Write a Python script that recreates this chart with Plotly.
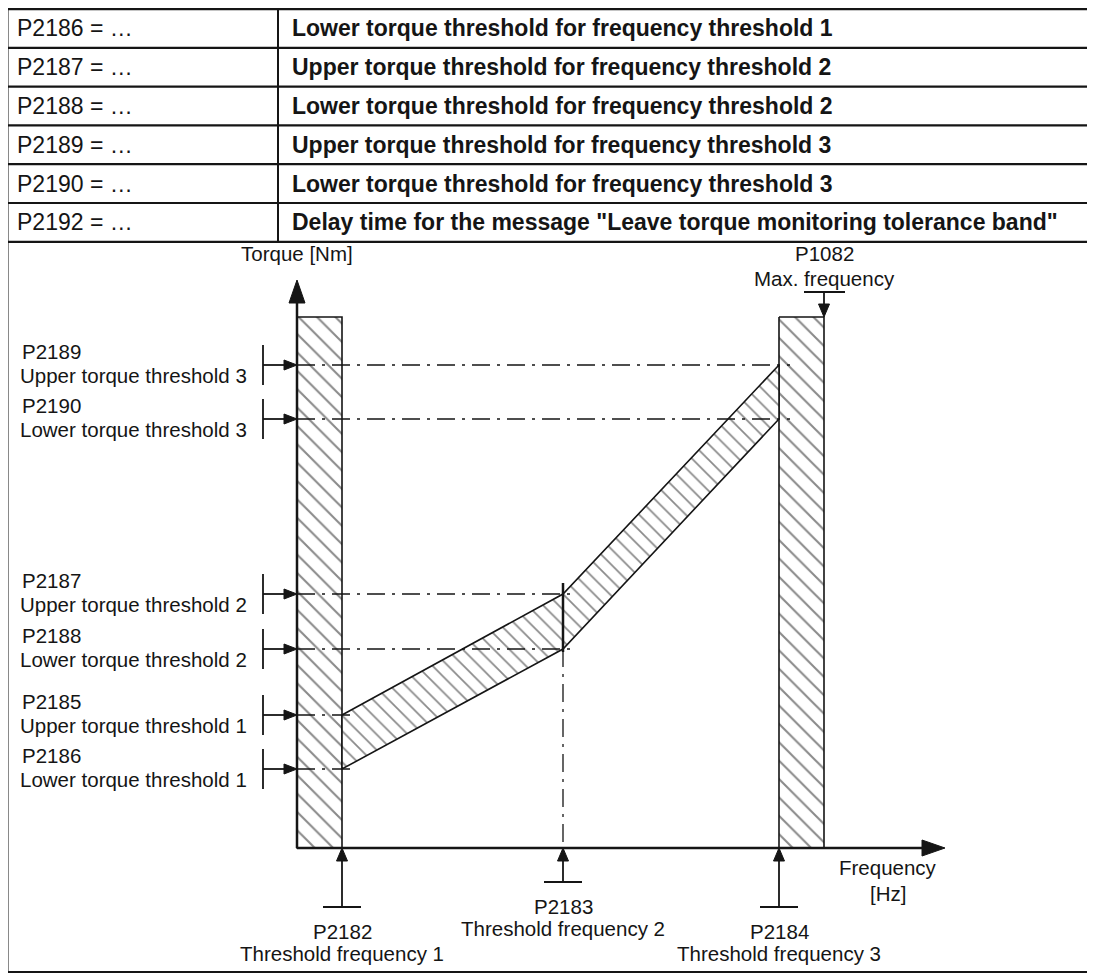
import plotly.graph_objects as go

W, H = 1095, 974
PAGE_OFFSET = 8          # default body margin of the html page
FONT = "Liberation Sans, Arial, sans-serif"
INK = "#151515"
LABEL = 20.5

# parameter table
param_ids = ["P2186 = …", "P2187 = …", "P2188 = …", "P2189 = …", "P2190 = …", "P2192 = …"]
param_text = [
    "Lower torque threshold for frequency threshold 1",
    "Upper torque threshold for frequency threshold 2",
    "Lower torque threshold for frequency threshold 2",
    "Upper torque threshold for frequency threshold 3",
    "Lower torque threshold for frequency threshold 3",
    'Delay time for the message "Leave torque monitoring tolerance band"',
]

# diagram values (frequency runs right, torque runs up)
f_origin = 297
f_thresholds = [342, 563, 779]          # P2182, P2183, P2184
f_max = 824                             # P1082
f_axis_end = 945
t_origin = 848
t_axis_end = 280
t_band_top = 317
torque_upper = [715, 594, 365]          # P2185, P2187, P2189
torque_lower = [769, 649, 419]          # P2186, P2188, P2190

upper_ids = ["P2185", "P2187", "P2189"]
lower_ids = ["P2186", "P2188", "P2190"]
upper_names = ["Upper torque threshold 1", "Upper torque threshold 2", "Upper torque threshold 3"]
lower_names = ["Lower torque threshold 1", "Lower torque threshold 2", "Lower torque threshold 3"]
freq_ids = ["P2182", "P2183", "P2184"]
freq_names = ["Threshold frequency 1", "Threshold frequency 2", "Threshold frequency 3"]
freq_marker_drop = [59, 34, 59]         # how far below the axis each frequency marker sits

fig = go.Figure()
shapes = []
ann = []
tri_x, tri_y = [], []


def line(x0, y0, x1, y1, w=1.5, dash="solid"):
    shapes.append(dict(type="line", x0=x0, y0=y0, x1=x1, y1=y1, xref="x", yref="y",
                       line=dict(color=INK, width=w, dash=dash), layer="above"))


def text(x, y, s, size=LABEL, anchor="center", bold=False):
    ann.append(dict(x=x, y=y, xref="x", yref="y", text=f"<b>{s}</b>" if bold else s,
                    showarrow=False, xanchor=anchor, yanchor="middle",
                    font=dict(family=FONT, size=size, color=INK)))


def head(tx, ty, direction, length=11, half=5):
    if direction == "up":
        pts = [(tx, ty), (tx - half, ty + length), (tx + half, ty + length)]
    elif direction == "down":
        pts = [(tx, ty), (tx - half, ty - length), (tx + half, ty - length)]
    else:  # right
        pts = [(tx, ty), (tx - length, ty - half), (tx - length, ty + half)]
    tri_x.extend([p[0] for p in pts] + [pts[0][0], None])
    tri_y.extend([p[1] for p in pts] + [pts[0][1], None])


def hatch(xs, ys, size=13):
    fig.add_trace(go.Scatter(
        x=xs, y=ys, mode="lines", fill="toself", fillcolor="white",
        fillpattern=dict(shape="\\", fgcolor=INK, bgcolor="white", size=size, solidity=0.16),
        line=dict(color=INK, width=1.6), hoverinfo="skip"))


# ---- table ----
row_h = 38.8
top = 9
for i, (pid, txt) in enumerate(zip(param_ids, param_text)):
    yc = top + row_h * (i + 0.5)
    text(15, yc, pid, size=23, anchor="left")
    text(290, yc, txt, size=23, anchor="left", bold=True)
    line(7, top + row_h * (i + 1), 1093, top + row_h * (i + 1), w=2.2)
table_bottom = top + row_h * len(param_ids)
line(278, top, 278, table_bottom, w=2)
line(7, top, 1093, top, w=2.5)
line(7, top, 7, 972, w=3)
line(1093, top, 1093, 972, w=2)
line(7, 972, 1093, 972, w=2)

# ---- hatched bars at threshold frequency 1 and 3 ----
hatch([f_origin, f_thresholds[0], f_thresholds[0], f_origin, f_origin],
      [t_band_top, t_band_top, t_origin, t_origin, t_band_top])
hatch([f_thresholds[2], f_max, f_max, f_thresholds[2], f_thresholds[2]],
      [t_band_top, t_band_top, t_origin, t_origin, t_band_top])

# tolerance band
hatch(f_thresholds + f_thresholds[::-1] + [f_thresholds[0]],
      torque_upper + torque_lower[::-1] + [torque_upper[0]], size=11)

# ---- axes ----
line(f_origin, t_origin, f_origin, t_axis_end + 20, w=2.5)
head(f_origin, t_axis_end, "up", length=23, half=8)
line(f_origin, t_origin, f_axis_end - 20, t_origin, w=2.5)
head(f_axis_end, t_origin, "right", length=23, half=8)
text(f_origin, 253, "Torque [Nm]")
text(888, 867, "Frequency")
text(888, 893, "[Hz]")

# ---- threshold lines ----
dd = "18px,7px,3px,7px"
for i in range(3):
    fx = f_thresholds[i]
    for ty in (torque_upper[i], torque_lower[i]):
        line(f_origin, ty, fx + 11, ty, w=1.4, dash=dd)
line(f_thresholds[1], torque_upper[1] - 11, f_thresholds[1], torque_lower[1] + 3, w=2.5)
line(f_thresholds[1], torque_lower[1], f_thresholds[1], t_origin, w=1.3, dash=dd)

# left labels with bracket arrows
for ids, names, ys in ((upper_ids, upper_names, torque_upper), (lower_ids, lower_names, torque_lower)):
    for pid, name, ty in zip(ids, names, ys):
        line(263, ty - 20, 263, ty + 20, w=1.8)
        line(263, ty, f_origin - 10, ty, w=1.8)
        head(f_origin, ty, "right", length=13, half=5)
        text(20, ty - 14, pid, anchor="left")
        text(18, ty + 10, name, anchor="left")

# frequency markers below the axis
for fx, pid, name, drop in zip(f_thresholds, freq_ids, freq_names, freq_marker_drop):
    yb = t_origin + drop
    line(fx - 19, yb, fx + 19, yb, w=1.8)
    line(fx, yb, fx, t_origin + 10, w=1.8)
    head(fx, t_origin, "up", length=13, half=5.5)
    text(fx, yb + 24, pid)
    text(fx, yb + 46, name)

# max frequency marker
line(f_max - 20, 292, f_max + 21, 292, w=1.8)
line(f_max, 292, f_max, t_band_top - 10, w=1.8)
head(f_max, t_band_top, "down", length=13, half=5.5)
text(f_max, 253, "P1082")
text(f_max, 278, "Max. frequency")

fig.add_trace(go.Scatter(x=tri_x, y=tri_y, mode="lines", fill="toself", fillcolor=INK,
                         line=dict(color=INK, width=1), hoverinfo="skip"))

# the page puts the plot 8px in from the top-left corner, so the axes start there
fig.update_layout(
    width=W - PAGE_OFFSET, height=H - PAGE_OFFSET, margin=dict(l=0, r=0, t=0, b=0),
    paper_bgcolor="white", plot_bgcolor="white", showlegend=False,
    xaxis=dict(range=[PAGE_OFFSET, W], visible=False, fixedrange=True),
    yaxis=dict(range=[H, PAGE_OFFSET], visible=False, fixedrange=True),
    shapes=shapes, annotations=ann,
)

fig.write_html("out.html")
